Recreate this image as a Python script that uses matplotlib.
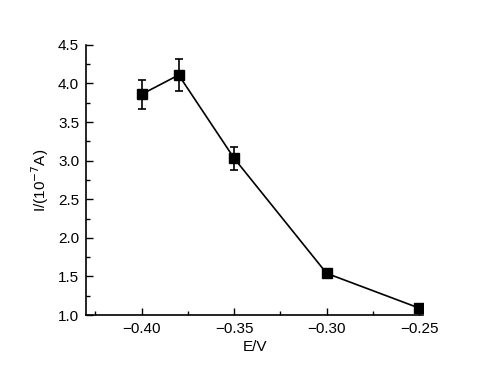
import matplotlib
matplotlib.use("Agg")
import matplotlib.pyplot as plt
from matplotlib.ticker import MultipleLocator

E = [-0.40, -0.38, -0.35, -0.30, -0.25]
I = [3.86, 4.11, 3.03, 1.54, 1.09]
err = [0.19, 0.21, 0.15, 0.06, 0.05]

plt.rcParams['font.family'] = ['Liberation Sans', 'DejaVu Sans']
fig = plt.figure(figsize=(5.04, 3.87), dpi=100)
ax = fig.add_axes([0.171, 0.186, 0.668, 0.698])
ax.errorbar(E, I, yerr=err, color='black', marker='s', markersize=6.5, lw=1.2,
            capsize=3, elinewidth=1.2, capthick=1.2)
ax.set_xlim(-0.43, -0.248)
ax.set_ylim(1.0, 4.5)
ax.xaxis.set_major_locator(MultipleLocator(0.05))
ax.xaxis.set_minor_locator(MultipleLocator(0.025))
ax.yaxis.set_major_locator(MultipleLocator(0.5))
ax.yaxis.set_minor_locator(MultipleLocator(0.25))
ax.set_xticks([-0.40, -0.35, -0.30, -0.25])
ax.set_xticklabels(['\u22120.40', '\u22120.35', '\u22120.30', '\u22120.25'])
ax.spines['top'].set_visible(False)
ax.spines['right'].set_visible(False)
for s in ['left', 'bottom']:
    ax.spines[s].set_linewidth(1.2)
ax.tick_params(which='both', direction='in', labelsize=11, width=1)
ax.tick_params(which='major', length=5, pad=5)
ax.tick_params(which='minor', length=3)
ax.set_xlabel('E/V', fontsize=11, labelpad=3)
ax.set_ylabel('I/(10$^{-7}$A)', fontsize=11, labelpad=5)
fig.savefig('out.png', dpi=100)
